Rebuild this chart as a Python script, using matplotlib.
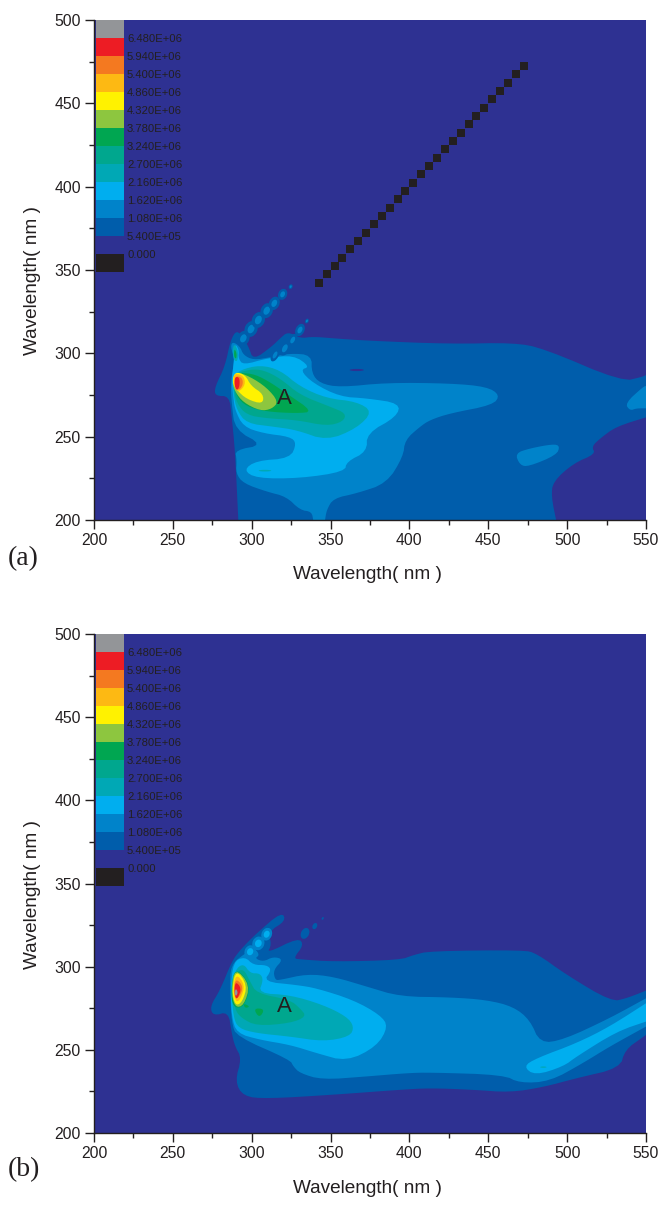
from matplotlib import pyplot as plt
from matplotlib.patches import Ellipse, Rectangle

plt.rcParams['font.family'] = ['Liberation Sans', 'DejaVu Sans']

# Contour colours, lowest to highest
BASE = '#2E3192'
LEVEL_COLORS = ['#005DAB', '#0083CA', '#00AEEF', '#00A8B5', '#00A78E', '#00A651',
                '#8DC63F', '#FFF200', '#FDB913', '#F47920', '#ED1C24', '#939598']

# Legend, top to bottom
legend_colors = ['#939598', '#ED1C24', '#F47920', '#FDB913', '#FFF200', '#8DC63F', '#00A651',
                 '#00A78E', '#00A8B5', '#00AEEF', '#0083CA', '#005DAB', BASE, '#231F20']
legend_labels = ['6.480E+06', '5.940E+06', '5.400E+06', '4.860E+06', '4.320E+06', '3.780E+06',
                 '3.240E+06', '2.700E+06', '2.160E+06', '1.620E+06', '1.080E+06', '5.400E+05',
                 '0.000']

# Diagonal scatter line of panel (a)
diag = [342.5, 347.5, 352.5, 357.5, 362.5, 367.5, 372.5, 377.5, 382.5, 387.5, 392.5, 397.5, 402.5, 407.5,
        412.5, 417.5, 422.5, 427.5, 432.5, 437.5, 442.5, 447.5, 452.5, 457.5, 462.5, 467.5, 472.5]

# Contour outlines: (level index, outline of (emission, excitation))
a_level1 = [(291.5,200),(289.4,242),(287.3,262),(285.8,274.4),(276.7,274.4),(276.7,280),(283,292),(286.6,308),
            (290.5,314),(294.7,309),(298,304),(301,296),(312.6,304),(318,309),(323,313),(330.6,309),(339,310),
            (351.8,309),(373,307.6),(425.8,305.6),(466,306.4),(485,303),(534.6,283),(548,286),(550,287),
            (550,261.6),(531,256),(521,249),(515.5,244),(518,239.6),(504,234),(491,223),(490,214),(493,200)]
a_level2 = [(288,307),(292.6,304),(294.7,299),(301,296),(311.6,297.6),(324.3,300),(338,299),(338,288),(343.3,282),
            (356,279.6),(385.6,282.4),(425.8,282),(449,280),(457.4,275),(453,269),(425.7,264),(413,260),
            (406.7,256),(397.2,248),(396,238),(385.6,222),(366.6,216),(351.8,213),(347.5,206),(346.5,200),
            (339,200),(338,205),(330.6,206),(322,214),(309.5,217),(294.7,222),(290,228),(290.5,236),(289.4,242),
            (307.4,245),(289.4,254),(287.3,270),(286.6,282),(288,290),(289,297),(286.6,304)]
a_level2_isle1 = [(467,240),(470,233),(475.4,232),(493.3,239),(495.4,244.4),(491.2,245.6),(476.4,243)]
a_level2_isle2 = [(536.7,270),(548.3,280),(550,280.4),(550,267),(544,267),(539.8,265.6)]
a_level3 = [(289.4,306),(292,302),(291.5,297),(294.7,293),(309.5,297),(326.4,299),(337,292),(330.6,290),(339,282),
            (356,274),(373,273),(394,270),(392,262),(373,252),(373,241),(360.2,235),(359,229),(330.6,225),
            (303,225),(294.7,230),(303,235.6),(324.3,237),(328.5,246),(324.3,250),(307.4,252),(294.7,256),
            (289.4,266),(288.3,274),(287.3,284),(288.3,292),(289,299)]
a_level4 = [(292.6,290),(305.2,293),(318,290),(330.6,280),(347.5,273),(366.6,271),(376.7,265),(366.6,255),
            (347.5,247.6),(328.5,254),(313.7,256),(296.8,258),(290.5,266),(288.3,276),(288.3,286)]
a_level4_spike = [(289,306),(291.5,301),(291,295),(288.5,296),(287.8,302)]
a_level5 = [(290.5,288),(299,290.4),(307.4,290),(318,285),(330.6,275),(349.6,268),(359.8,264),(358,259),
            (347.5,256.4),(328.5,260),(309.5,261),(296.8,263),(290.5,270),(288.3,280)]
a_level6 = [(290.5,288),(300,288),(309.5,284),(322,276),(339,265),(328.5,264),(309.5,265),(296.8,268),
            (290.5,274),(288.3,282)]
a_level6_spike = [(289,303),(290.5,300),(290.2,296.5),(288.7,298)]
a_level7 = [(290,289),(299,286),(309.5,279.5),(317,271),(312.6,266.5),(305.3,265.5),(294.7,270.5),(289.4,277),(287.5,283)]
a_level8 = [(289.4,289),(296,287),(299.5,280.5),(307.5,275.5),(307,269.5),(296.8,272.5),(290.5,278),(287.5,283)]
a_level9 = [(289.4,288),(295,286.5),(296,281),(291.5,276.5),(289,280),(288.3,285)]
a_level10 = [(289.4,286.5),(294,285.5),(294.5,281),(291.5,277.5),(289.2,281)]
a_level11 = [(289.4,286),(292.3,285.5),(292.3,280),(290.5,277.5),(289,281)]
a_outlines = [(0, a_level1), (1, a_level2), (1, a_level2_isle1), (1, a_level2_isle2), (2, a_level3),
              (3, a_level4), (3, a_level4_spike), (4, a_level5), (5, a_level6), (5, a_level6_spike),
              (6, a_level7), (7, a_level8), (8, a_level9), (9, a_level10), (10, a_level11)]

# Rayleigh scatter spots of panel (a)
a_spot_x = [294.7, 299.6, 304.2, 309.5, 314.3, 319.6, 324.7, 335, 330.6, 326, 321, 314.8]
a_spot_y = [309, 314.6, 320, 325.6, 330, 335.4, 340, 319.4, 314, 308, 303, 299]
a_spot_major = [9.5, 10, 10, 9.5, 8.5, 7, 3, 3, 8, 8, 9.5, 8.5]
a_spot_minor = [7.5, 8, 8, 7.5, 6.5, 5.5, 2.4, 2.2, 5.5, 5, 6, 4.5]

# Panel (b)
b_level1 = [(273.5,276),(280,286),(287.3,303),(292.6,310),(303,320),(319,333),(321.7,327.6),(310.5,321),(312.6,313),
            (309.5,308),(329.6,317.4),(333,313),(326.4,305),(330.6,304.4),(351.8,303),(394,304),(402.5,307),
            (413,309.4),(472,310),(480.6,308),(499.7,295),(528,279),(537.7,281),(550,285.6),(550,259),(548,257.6),
            (536.7,250),(533.5,239),(506,233),(485,227.6),(463.7,224.4),(440.5,226),(413,227),(394,226),
            (351.8,223),(309.5,220.6),(294.7,222),(289.4,231),(293.6,245),(289.4,252),(287.3,260),(285.2,273),
            (275.7,270.4)]
b_level2 = [(286.6,301),(295.7,308),(302,311),(305,307),(302,305),(307.4,303),(313.7,306),(320,304.4),(313.7,298),
            (314.8,292),(318,292),(335,295.6),(351.8,294),(373,288),(394,282),(425.8,281.6),(449,280),(465.8,276),
            (476.4,268),(482.8,254),(497.6,256),(527,269),(550,281),(550,264),(527,252),(510,242),(489,231),
            (470,230),(459.5,235),(413,236.4),(398.3,236),(373,234),(344.4,232),(330.6,236),(326.4,240),
            (324.3,244),(290.5,258),(287.3,266),(286.2,286)]
b_level3 = [(288.3,303),(295.7,306),(301,301),(309.5,301),(312.6,298),(307.4,291),(328.5,289),(341.2,287),(364.4,280),
            (381.4,271),(386.6,264),(379.2,252),(360.2,243),(341.2,248),(324.3,253),(305.3,256),(290.5,260),
            (287.3,270),(286.6,286)]
b_level3_stripe = [(472.2,240),(480.6,245),(506,254),(527,264),(550,278),(550,267),(531.4,261),(506,246),(497.6,240),
                   (479.6,234.6)]
b_level4 = [(289.4,298),(294.7,302),(299,296),(305.3,296),(307.4,292),(304.2,284),(324.3,283),(345.4,277),(360.2,270),
            (364.9,264),(362.3,258),(345.4,255),(324.3,258),(303,260),(291.5,263),(288.3,270),(287.3,286)]
b_level5 = [(289.4,296),(294.7,299),(299,291),(303.1,284),(324.3,280),(330.6,275),(334.8,270),(324.3,266),(303.1,264.4),
            (293.6,269),(289.4,274),(287.7,286)]
b_level6 = [(289.4,300),(299.5,289),(295,275.5),(288,275.5),(286.7,286)]
b_level6_tri = [(301,275),(308.4,274.6),(304.8,269)]
b_level6_tri2 = [(294.7,278),(299,276),(295.7,275)]
b_level7 = [(289.4,299.5),(299,289),(295,276.5),(289.2,275.5),(287,286)]
b_level8 = [(290,298.5),(297.3,289),(294,278.5),(289.4,276.5),(287.5,286)]
b_level9 = [(290,296),(295.8,289),(293,280.5),(290,278.5),(288.1,286)]
b_level10 = [(290,293),(294.8,288),(292,281.5),(289.4,281),(288.7,287)]
b_level11 = [(290,291),(293.5,287),(291.2,281),(289.6,281),(289,287)]
b_level12 = [(290,287),(291.3,284.4),(290,282),(289,284.4)]
b_outlines = [(0, b_level1), (1, b_level2), (2, b_level3), (2, b_level3_stripe), (3, b_level4), (4, b_level5),
              (5, b_level6), (5, b_level6_tri), (5, b_level6_tri2), (6, b_level7), (7, b_level8), (8, b_level9),
              (9, b_level10), (10, b_level11), (11, b_level12)]

b_spot_x = [299, 304.2, 309.5, 333.8, 340, 345]
b_spot_y = [309, 314, 319.5, 320, 324.4, 329]
b_spot_major = [8, 8.5, 8, 7, 4, 1.8]
b_spot_minor = [7, 7.5, 6.5, 5, 2.8, 1.2]
b_spot_level = [2, 2, 2, 0, 0, 0]

W, H = 659.0, 1207.0


def smooth(outline, passes=2):
    """Round the corners of a traced outline; points on the plot frame stay put."""
    pts = list(outline)
    for _ in range(passes):
        out = []
        n = len(pts)
        for i in range(n):
            p = pts[i]
            q = pts[(i+1) % n]
            if p[0] >= 550 or p[1] <= 200:
                out.append(p)
            else:
                out.append((0.75*p[0]+0.25*q[0], 0.75*p[1]+0.25*q[1]))
            if not (q[0] >= 550 or q[1] <= 200):
                out.append((0.25*p[0]+0.75*q[0], 0.25*p[1]+0.75*q[1]))
        pts = out
    return pts


def draw_panel(left, top, bottom, right, outlines, tag, tag_y, xlabel_y, ylabel_y):
    """One EEM contour panel, positions in figure pixels."""
    ax = plt.axes([left/W, 1-bottom/H, (right-left)/W, (bottom-top)/H])
    ax.set_facecolor(BASE)
    ax.axis([200, 550, 200, 500])
    for level, outline in outlines:
        pts = smooth(outline)
        xs = [p[0] for p in pts]
        ys = [p[1] for p in pts]
        ax.fill(xs, ys, color=LEVEL_COLORS[level], lw=0)

    ax.set_xticks(range(200, 551, 50))
    ax.set_xticks(range(225, 550, 50), minor=True)
    ax.set_yticks(range(200, 501, 50))
    ax.set_yticks(range(225, 500, 50), minor=True)
    ax.tick_params(which='major', length=6.5, width=1, color='#231F20', labelsize=11.3, labelcolor='#231F20', pad=3)
    ax.tick_params(which='minor', length=3.5, width=1, color='#231F20')
    ax.spines['top'].set_visible(False)
    ax.spines['right'].set_visible(False)
    for s in ['left', 'bottom']:
        ax.spines[s].set_linewidth(1)
        ax.spines[s].set_color('#231F20')

    ax.set_xlabel('Wavelength( nm )', fontsize=13.7, color='#231F20')
    ax.set_ylabel('Wavelength( nm )', fontsize=13.7, color='#231F20')
    ax.xaxis.set_label_coords((367-left)/(right-left), -(xlabel_y-7-bottom)/(bottom-top), transform=ax.transAxes)
    ax.yaxis.set_label_coords((41-left)/(right-left), (bottom-ylabel_y)/(bottom-top), transform=ax.transAxes)

    # Legend sits inside the plot, top left
    row = 18.0/(bottom-top)
    for i, c in enumerate(legend_colors):
        ax.add_patch(Rectangle((2.0/(right-left), 1-(i+1)*row), 28.0/(right-left), row, transform=ax.transAxes,
                               color=c, lw=0, zorder=5))
    for i, t in enumerate(legend_labels):
        ax.text(33.0/(right-left), 1-(i+1)*row-1.0/(bottom-top), t, transform=ax.transAxes, fontsize=8.1,
                color='#231F20', va='center', ha='left', zorder=6)

    ax.text(321, 273 if tag == '(a)' else 276, 'A', fontsize=16, color='#231F20', ha='center', va='center', zorder=6)
    plt.figtext(8/W, 1-tag_y/H, tag, fontsize=20, family='Liberation Serif', color='#231F20', ha='left', va='center')
    return ax


# Panel (a)
axa = draw_panel(94, 20, 520, 646, a_outlines, '(a)', 559, 573, 281)
for x, y, a, b in zip(a_spot_x, a_spot_y, a_spot_major, a_spot_minor):
    axa.add_patch(Ellipse((x, y), a, b, angle=60, color=LEVEL_COLORS[0], lw=0))
    axa.add_patch(Ellipse((x, y), a*0.55, b*0.5, angle=60, color=LEVEL_COLORS[1], lw=0))
axa.add_patch(Ellipse((366.6, 290), 9, 1.3, color=BASE, lw=0))
axa.add_patch(Ellipse((308.4, 229.6), 8, 1, color=LEVEL_COLORS[3], lw=0))
axa.scatter(diag, diag, marker='s', s=31, color='#231F20', lw=0, zorder=4)

# Panel (b)
axb = draw_panel(94, 634, 1133, 646, b_outlines, '(b)', 1170, 1187, 895)
for x, y, a, b, lv in zip(b_spot_x, b_spot_y, b_spot_major, b_spot_minor, b_spot_level):
    if lv == 2:
        axb.add_patch(Ellipse((x, y), a, b, angle=60, color=LEVEL_COLORS[1], lw=0))
        axb.add_patch(Ellipse((x, y), a*0.55, b*0.55, angle=60, color=LEVEL_COLORS[2], lw=0))
    else:
        axb.add_patch(Ellipse((x, y), a, b, angle=60, color=LEVEL_COLORS[lv], lw=0))
axb.add_patch(Ellipse((484.9, 239.6), 4, 0.8, color=LEVEL_COLORS[3], lw=0))

plt.gcf().set_size_inches(W/100, H/100)
plt.savefig('out.png', dpi=100)
